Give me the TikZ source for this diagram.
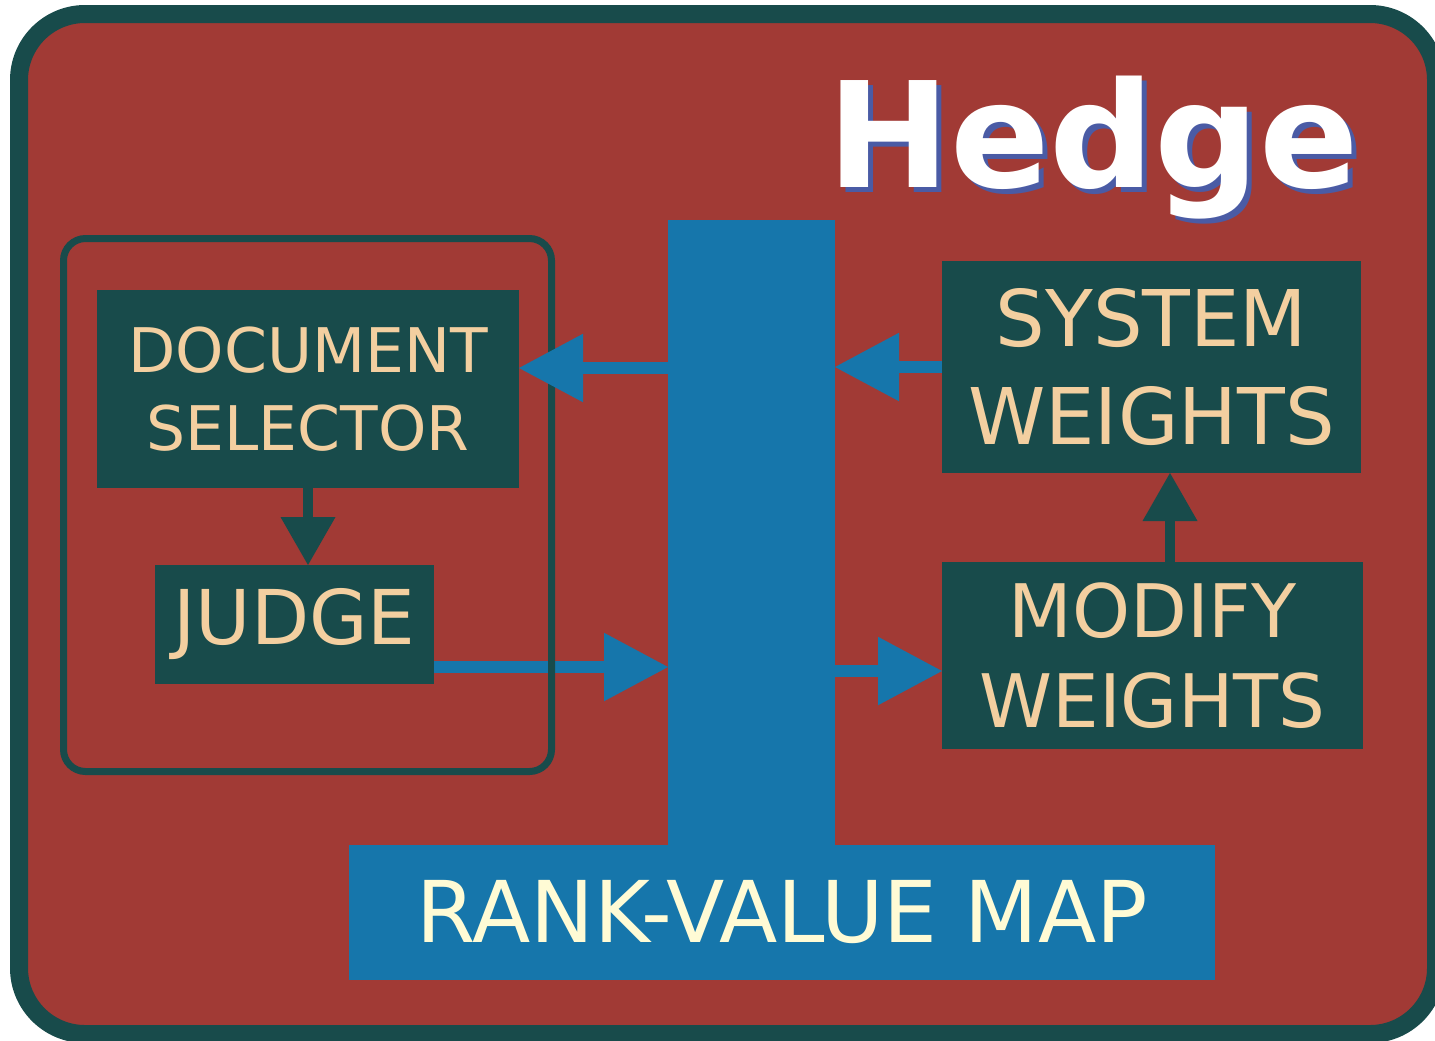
\documentclass[tikz,border=0pt]{standalone}
\usepackage{fontspec}
\setmainfont{DejaVu Sans}
\usepackage{tikz}
\usepackage{xcolor}
\usetikzlibrary{positioning, arrows.meta}
\definecolor{bgred}{HTML}{A13A35}
\definecolor{dgreen}{HTML}{184B4B}
\definecolor{railblue}{HTML}{1676AB}
\definecolor{beige}{HTML}{F3CFA0}
\definecolor{cream}{HTML}{FFFBD5}
\definecolor{shadeblue}{HTML}{4A5BA5}
\tikzstyle{module} = [rectangle, fill=dgreen, text=beige, text centered, align=center, inner sep=0pt, outer sep=0pt]
\tikzstyle{rail} = [rectangle, fill=railblue, inner sep=0pt, outer sep=0pt]
\tikzstyle{heading} = [inner sep=0pt, anchor=base west, font=\fontsize{83.5}{90}\selectfont\bfseries]
\tikzstyle{arrow} = [draw=railblue, line width=0.25cm, -{Triangle[length=1.28cm, width=1.37cm, line width=0pt]}]
\tikzstyle{garrow} = [draw=dgreen, line width=0.21cm, -{Triangle[length=0.96cm, width=1.1cm, line width=0pt]}]

\begin{document}
\begin{tikzpicture}
    \useasboundingbox (0,0) rectangle (28.7,-20.8);
    \draw[line width=0.36cm, draw=dgreen, fill=bgred, rounded corners=1.32cm] (0.38,-0.28) rectangle (28.72,-20.68);
    \node (shade) [heading, text=shadeblue] at (16.64,-3.84) {Hedge};
    \node (title) [heading, text=white] at (16.54,-3.74) {Hedge};
    \node (bar) [rail, minimum width=3.34cm, minimum height=12.5cm] at (15.03,-10.65) {};
    \node (rankmap) [rail, below=0cm of bar, xshift=0.61cm, minimum width=17.32cm, minimum height=2.7cm, text=cream, font=\fontsize{48.5}{56}\selectfont] {RANK-VALUE MAP};
    \node (dsel) [module, minimum width=8.44cm, minimum height=3.96cm, font=\fontsize{35}{44}\selectfont] at (6.16,-7.78) {DOCUMENT\\SELECTOR};
    \node (judge) [module, below=1.54cm of dsel, xshift=-0.27cm, minimum width=5.58cm, minimum height=2.38cm, font=\fontsize{43}{50}\selectfont] {JUDGE};
    \node (sysw) [module, minimum width=8.38cm, minimum height=4.24cm, font=\fontsize{44.5}{56}\selectfont] at (23.03,-7.34) {SYSTEM\\WEIGHTS};
    \node (modw) [module, below=1.78cm of sysw, xshift=0.02cm, minimum width=8.42cm, minimum height=3.74cm, font=\fontsize{42}{51}\selectfont] {MODIFY\\WEIGHTS};
    \draw[arrow] ([yshift=-0.85cm]judge.east) -- ([yshift=-0.85cm]judge.east -| bar.west);
    \draw[line width=0.14cm, draw=dgreen, rounded corners=0.44cm] (1.27,-4.77) rectangle (11.03,-15.43);
    \draw[arrow] ([yshift=0.42cm]dsel.east -| bar.west) -- ([yshift=0.42cm]dsel.east);
    \draw[arrow] (sysw.west) -- (sysw.west -| bar.east);
    \draw[arrow] ([yshift=-0.31cm]modw.west -| bar.east) -- ([yshift=-0.31cm]modw.west);
    \draw[garrow] (dsel.south) -- (dsel.south |- judge.north);
    \draw[garrow] ([xshift=0.35cm]modw.north) -- ([xshift=0.35cm]modw.north |- sysw.south);
\end{tikzpicture}
\end{document}
